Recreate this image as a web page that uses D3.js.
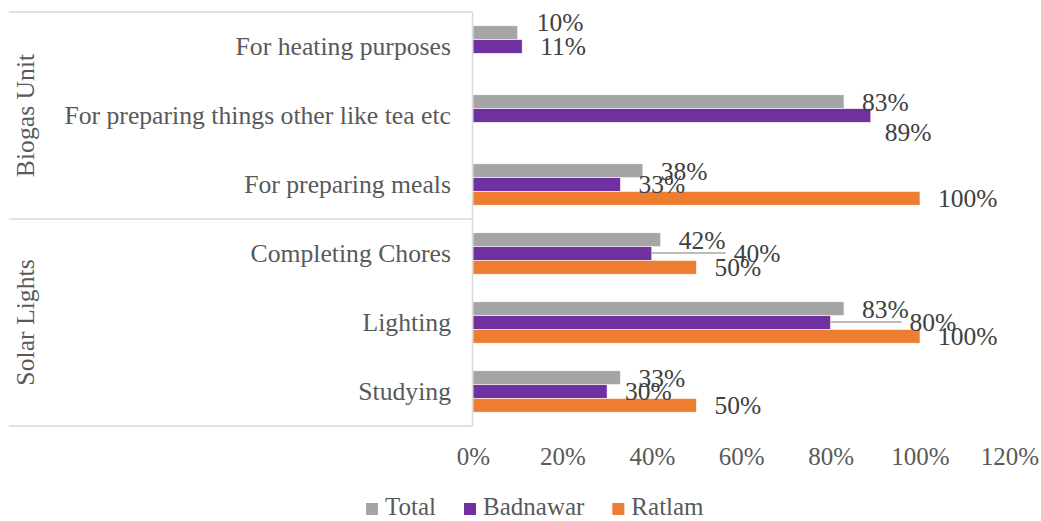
<!DOCTYPE html>
<html>
<head>
<meta charset="utf-8">
<script src="https://cdn.jsdelivr.net/npm/d3@7"></script>
<style>
  html, body { margin: 0; padding: 0; background: #ffffff; }
  svg { display: block; font-family: "Liberation Serif", "DejaVu Serif", serif; }
</style>
</head>
<body>
<svg id="chart" width="1041" height="521"></svg>
<script>
// Categories, top to bottom, with their group
const categories = [
  "For heating purposes",
  "For preparing things other like tea etc",
  "For preparing meals",
  "Completing Chores",
  "Lighting",
  "Studying"
];
const groups = ["Biogas Unit", "Biogas Unit", "Biogas Unit", "Solar Lights", "Solar Lights", "Solar Lights"];
const groupNames = ["Biogas Unit", "Solar Lights"];

// Series values (share of respondents); null = no bar
const seriesNames = ["Total", "Badnawar", "Ratlam"];
const totalValues    = [0.10, 0.83, 0.38, 0.42, 0.83, 0.33];
const badnawarValues = [0.11, 0.89, 0.33, 0.40, 0.80, 0.30];
const ratlamValues   = [null, null, 1.00, 0.50, 1.00, 0.50];

const xTicks = [0, 0.2, 0.4, 0.6, 0.8, 1.0, 1.2];
const colors = ["#a5a5a5", "#7030a0", "#ed7d31"];

// Hand-placed data labels (offset from the default spot); leader = draw connector
const labelNudges = {
  "0-0": { dx: 1, dy: -11 },
  "1-1": { dx: -4, dy: 17 },
  "3-1": { dx: 64, dy: 0, leader: true },
  "4-1": { dx: 61, dy: 0, leader: true }
};

const seriesValues = [totalValues, badnawarValues, ratlamValues];

const svg = d3.select("#chart");
const plot = { left: 473, right: 1009.4, top: 12, bottom: 426 };

const x = d3.scaleLinear().domain([0, 1.2]).range([plot.left, plot.right]);
const y = d3.scaleBand().domain(categories).range([plot.top, plot.bottom])
  .paddingInner(0.4).paddingOuter(0.2);
const ySeries = d3.scaleBand().domain(seriesNames).range([0, y.bandwidth()]);

const fmt = d3.format(".0%");

// Bars
categories.forEach((cat, i) => {
  seriesNames.forEach((s, j) => {
    const v = seriesValues[j][i];
    if (v == null) return;
    svg.append("rect")
      .attr("x", x(0))
      .attr("y", y(cat) + ySeries(s))
      .attr("width", x(v) - x(0))
      .attr("height", ySeries.bandwidth())
      .attr("fill", colors[j])
      .attr("stroke", "#ffffff")
      .attr("stroke-width", 0.6);
  });
});

// Axis frame: vertical axis line and group separators
const frame = svg.append("g").attr("stroke", "#d9d9d9").attr("stroke-width", 1.5);
frame.append("line").attr("x1", plot.left - 0.5).attr("x2", plot.left - 0.5)
  .attr("y1", plot.top).attr("y2", plot.bottom);
const groupBounds = [];
groupNames.forEach(g => {
  const members = categories.filter((c, i) => groups[i] === g);
  const first = categories.indexOf(members[0]);
  const last = categories.indexOf(members[members.length - 1]);
  const top = first === 0 ? plot.top : (y(categories[first - 1]) + y.bandwidth() + y(categories[first])) / 2;
  const bottom = last === categories.length - 1 ? plot.bottom : (y(categories[last]) + y.bandwidth() + y(categories[last + 1])) / 2;
  groupBounds.push({ name: g, top, bottom });
});
const sepYs = Array.from(new Set(groupBounds.flatMap(b => [b.top, b.bottom])));
sepYs.forEach(sy => {
  frame.append("line").attr("x1", 9).attr("x2", plot.left - 0.5)
    .attr("y1", sy).attr("y2", sy);
});

// Category labels
svg.append("g").selectAll("text").data(categories).join("text")
  .attr("x", 451)
  .attr("y", d => y(d) + y.bandwidth() / 2)
  .attr("dy", "0.33em")
  .attr("text-anchor", "end")
  .attr("font-size", 25.7)
  .attr("fill", "#595959")
  .text(d => d);

// Group labels (rotated)
svg.append("g").selectAll("text").data(groupBounds).join("text")
  .attr("transform", d => `translate(26,${(d.top + d.bottom) / 2}) rotate(-90)`)
  .attr("dy", "0.33em")
  .attr("text-anchor", "middle")
  .attr("font-size", 25.7)
  .attr("fill", "#595959")
  .text(d => d.name);

// X axis tick labels
const xAxis = svg.append("g")
  .attr("transform", `translate(0,${plot.bottom})`)
  .call(d3.axisBottom(x).tickValues(xTicks).tickFormat(fmt).tickSize(0).tickPadding(0));
xAxis.select(".domain").remove();
xAxis.selectAll("text")
  .attr("y", 39)
  .attr("dy", 0)
  .attr("font-family", "Liberation Serif, DejaVu Serif, serif")
  .attr("font-size", 25)
  .attr("fill", "#595959");

// Data labels
const labels = svg.append("g");
categories.forEach((cat, i) => {
  seriesNames.forEach((s, j) => {
    const v = seriesValues[j][i];
    if (v == null) return;
    const n = labelNudges[`${i}-${j}`] || { dx: 0, dy: 0 };
    const cy = y(cat) + ySeries(s) + ySeries.bandwidth() / 2;
    const lx = x(v) + 18 + n.dx;
    if (n.leader) {
      labels.append("line")
        .attr("x1", x(v)).attr("x2", lx - 8)
        .attr("y1", cy - 0.5).attr("y2", cy - 0.5)
        .attr("stroke", "#a6a6a6").attr("stroke-width", 1.6);
    }
    labels.append("text")
      .attr("x", lx)
      .attr("y", cy + n.dy)
      .attr("dy", "0.35em")
      .attr("font-size", 25.5)
      .attr("fill", "#404040")
      .text(fmt(v));
  });
});

// Legend
const legend = svg.append("g");
let lx = 366;
seriesNames.forEach((s, j) => {
  legend.append("rect").attr("x", lx).attr("y", 503).attr("width", 12).attr("height", 12)
    .attr("fill", colors[j]);
  const t = legend.append("text").attr("x", lx + 19).attr("y", 515)
    .attr("font-size", 25).attr("fill", "#595959").text(s);
  lx += 19 + t.node().getComputedTextLength() + 28;
});
</script>
</body>
</html>
